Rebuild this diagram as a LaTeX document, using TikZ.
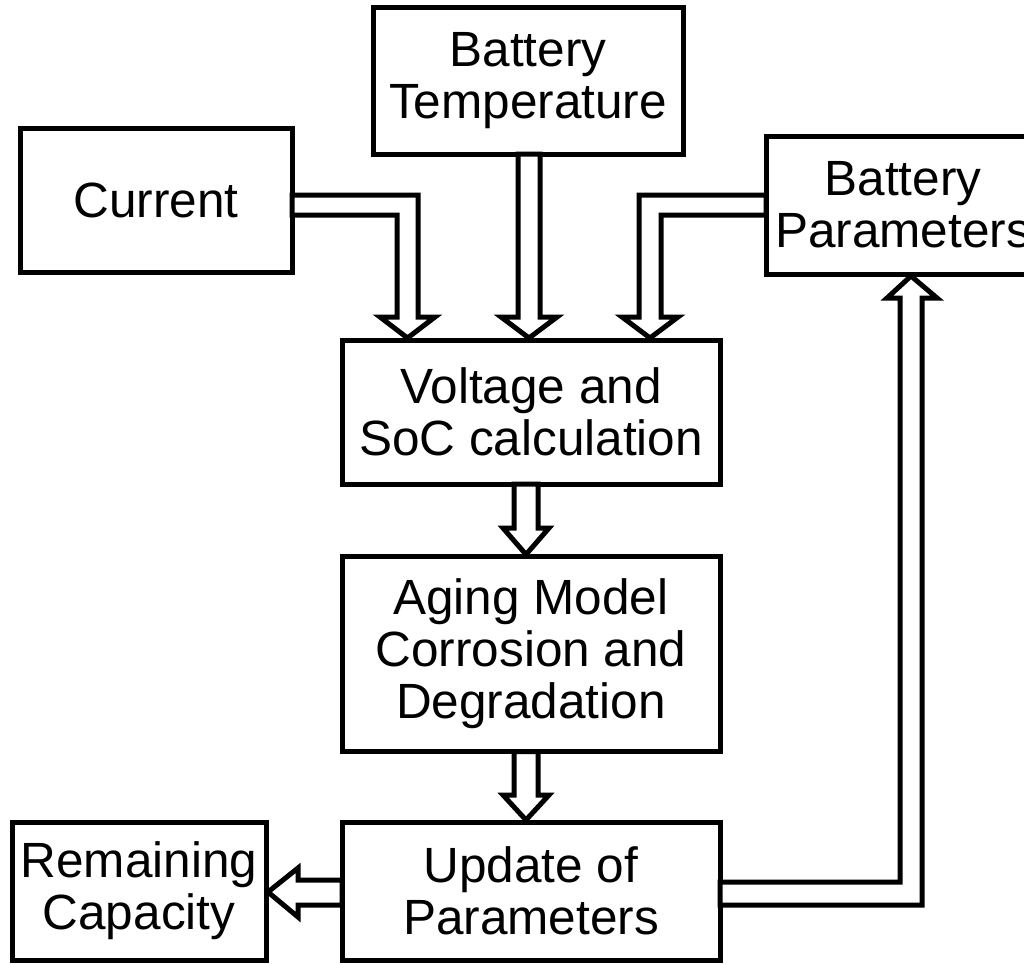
\documentclass[tikz,border=0pt]{standalone}
\usepackage{fontspec}
\setmainfont{Liberation Sans}
\usetikzlibrary{calc}
\begin{document}
\begin{tikzpicture}[x=1pt,y=-1pt,
  box/.style={draw,line width=5pt,inner sep=0pt,outer sep=0pt,align=center,
    font=\fontsize{49.5}{52}\selectfont},
  harrow/.style={draw,fill=white,line width=5pt,line join=miter,miter limit=10}]
\useasboundingbox (0,0) rectangle (1024,963);
\node[box,minimum width=272pt,minimum height=144pt] (cur) at (156,200) {Current};
\node[box,minimum width=310pt,minimum height=146pt] (temp) at (528,81) {Battery\\Temperature};
\node[box,minimum width=274pt,minimum height=138pt] (bp) at (903,205) {Battery\\Parameters};
\node[box,minimum width=378pt,minimum height=144pt] (volt) at (531,412) {Voltage and\\SoC calculation};
\node[box,minimum width=378pt,minimum height=195pt] (aging) at (531,654) {Aging Model\\Corrosion and\\Degradation};
\node[box,minimum width=378pt,minimum height=138pt] (upd) at (531,891) {Update of\\Parameters};
\node[box,minimum width=254pt,minimum height=138pt] (rem) at (139,891) {Remaining\\Capacity};
% Current -> Voltage
\draw[harrow] ($(cur.east)+(0,-5)$) -- (418,195) -- (418,317) -- (435,317)
  -- ($(volt.north)+(-123.5,-2)$) -- (380,317) -- (397,317) -- (397,215)
  -- ($(cur.east)+(0,15)$) -- cycle;
% Temperature -> Voltage
\draw[harrow] ($(temp.south)+(-10,0)$) -- (518,317) -- (501,317)
  -- ($(volt.north)+(-2,-2)$) -- (557,317) -- (540,317) -- ($(temp.south)+(12,0)$) -- cycle;
% Battery parameters -> Voltage
\draw[harrow] ($(bp.west)+(0,-10)$) -- (639,195) -- (639,317) -- (622,317)
  -- ($(volt.north)+(119,-2)$) -- (678,317) -- (661,317) -- (661,215)
  -- ($(bp.west)+(0,10)$) -- cycle;
% Voltage -> Aging
\draw[harrow] ($(volt.south)+(-17,0)$) -- (514,528) -- (503,528)
  -- ($(aging.north)+(-5,-2)$) -- (549,528) -- (538,528) -- ($(volt.south)+(7,0)$) -- cycle;
% Aging -> Update
\draw[harrow] ($(aging.south)+(-17,0)$) -- (514,795) -- (503,795)
  -- ($(upd.north)+(-5,-2)$) -- (549,795) -- (538,795) -- ($(aging.south)+(7,0)$) -- cycle;
% Update -> Remaining
\draw[harrow] ($(upd.west)+(0,-11)$) -- (298,880) -- (298,868)
  -- ($(rem.east)+(2,1)$) -- (298,917) -- (298,905) -- ($(upd.west)+(0,14)$) -- cycle;
% Update -> Battery parameters
\draw[harrow] ($(upd.east)+(0,-9)$) -- (900,882) -- (900,298) -- (887,298)
  -- ($(bp.south)+(8,2)$) -- (937,298) -- (922,298) -- (922,905)
  -- ($(upd.east)+(0,14)$) -- cycle;
\end{tikzpicture}
\end{document}
